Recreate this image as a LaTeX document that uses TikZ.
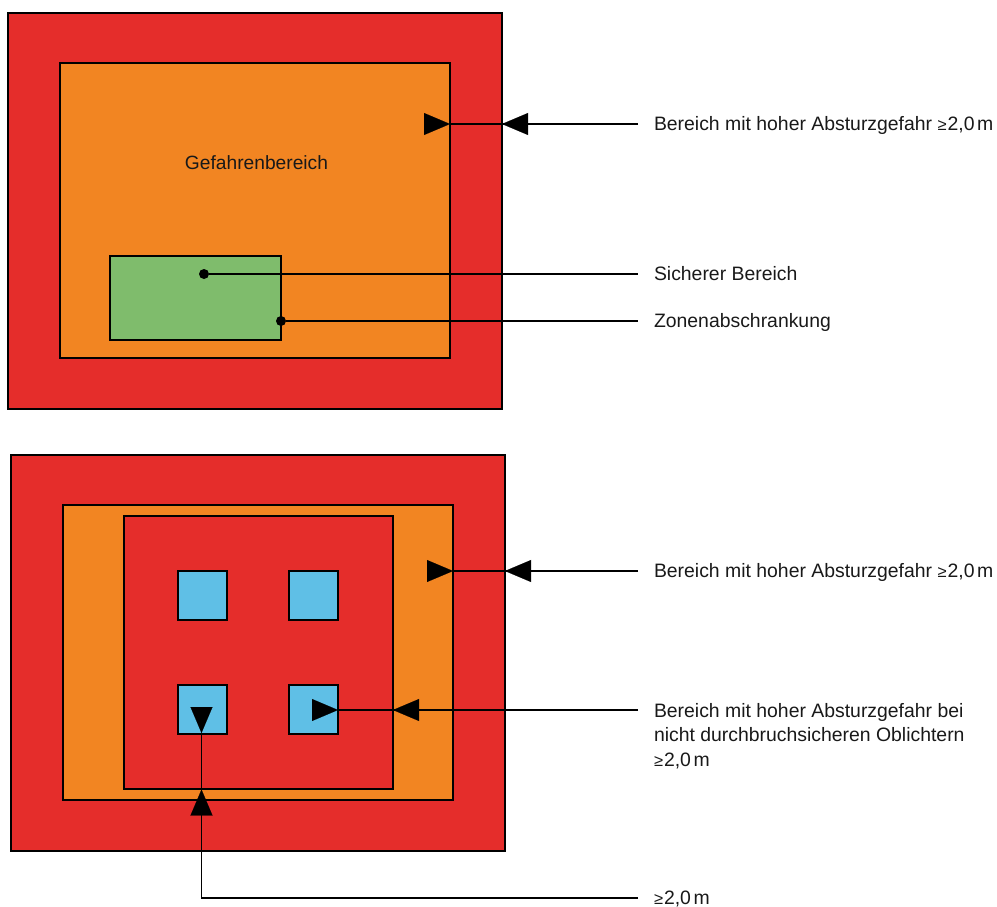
\documentclass[tikz,border=0pt]{standalone}
\usepackage{fontspec}
\setmainfont{Liberation Sans}
\usetikzlibrary{arrows.meta,calc}
\definecolor{cred}{HTML}{E52D2B}
\definecolor{corange}{HTML}{F28522}
\definecolor{cgreen}{HTML}{7FBC6C}
\definecolor{cblue}{HTML}{5FBFE6}
\newcommand{\gehalf}{{\fontsize{16.5}{16}\selectfont ≥}\kern1pt 2,0\kern2.5pt m}
\tikzset{
  x=1pt,y=-1pt,
  box/.style={draw=black,line width=1.7pt,rectangle,inner sep=0pt,outer sep=0pt,anchor=north west},
  conn/.style={draw=black,line width=1.2pt},
  tipend/.style={draw=black,-{Triangle[length=26pt,width=22pt,fill=black]},line width=0.1pt},
  dotmark/.style={circle,fill=black,inner sep=0pt,outer sep=0pt,minimum size=10pt},
  lab/.style={anchor=base west,inner sep=0pt,outer sep=0pt,font=\fontsize{19.4}{24.5}\selectfont,align=left,text=black!90}
}
\begin{document}
\begin{tikzpicture}
\useasboundingbox (0,0) rectangle (997,907);
% upper figure
\node[box,fill=cred,line width=2.5pt,minimum width=494pt,minimum height=396pt] (o1) at (8,13) {};
\node[box,fill=corange,minimum width=390pt,minimum height=295pt] (m1) at (60,63) {};
\node[box,fill=cgreen,minimum width=171pt,minimum height=84pt] (g1) at (110,256) {};
\node[anchor=base,inner sep=0pt,font=\fontsize{19.2}{20}\selectfont,text=black!90] (t0) at (256.5,169) {Gefahrenbereich};
\node[lab] (t1) at (654,131) {Bereich mit hoher Absturzgefahr \gehalf};
\node[lab] (t2) at (654,280) {Sicherer Bereich};
\node[lab] (t3) at (654,327) {Zonenabschrankung};
\coordinate (e1) at (638,124);
\coordinate (e2) at (638,274);
\coordinate (e3) at (638,321);
\node[dotmark] (d2) at (204,274) {};
\node[dotmark] (d3) at (g1.east |- e3) {};
\draw[conn] (e1) -- (m1.east |- e1);
\draw[tipend] ($(o1.east |- e1)+(26,0)$) -- (o1.east |- e1);
\draw[tipend] ($(m1.east |- e1)+(-26,0)$) -- (m1.east |- e1);
\draw[conn] (d2) -- (e2);
\draw[conn] (d3) -- (e3);
% lower figure
\node[box,fill=cred,minimum width=494pt,minimum height=396pt] (o2) at (11,455) {};
\node[box,fill=corange,minimum width=390pt,minimum height=295pt] (m2) at (63,505) {};
\node[box,fill=cred,minimum width=269pt,minimum height=273pt] (i2) at (124,516) {};
\node[box,fill=cblue,minimum width=49pt,minimum height=49pt] (b1) at (178,571) {};
\node[box,fill=cblue,minimum width=49pt,minimum height=49pt] (b2) at (289,571) {};
\node[box,fill=cblue,minimum width=49pt,minimum height=49pt] (b3) at (178,685) {};
\node[box,fill=cblue,minimum width=49pt,minimum height=49pt] (b4) at (289,685) {};
\node[lab] (t4) at (654,577) {Bereich mit hoher Absturzgefahr \gehalf};
\node[lab,anchor=north west] (t5) at (654,703) {Bereich mit hoher Absturzgefahr bei\\nicht durchbruchsicheren Oblichtern\\\gehalf};
\node[lab] (t6) at (654,904) {\gehalf};
\coordinate (e4) at (638,571);
\coordinate (e5) at (638,710);
\coordinate (e6) at (638,898);
\coordinate (v) at (201.5,898);
\draw[conn] (e4) -- (m2.east |- e4);
\draw[tipend] ($(o2.east |- e4)+(26,0)$) -- (o2.east |- e4);
\draw[tipend] ($(m2.east |- e4)+(-26,0)$) -- (m2.east |- e4);
\draw[conn] (e5) -- (b4.east |- e5);
\draw[tipend] ($(i2.east |- e5)+(26,0)$) -- (i2.east |- e5);
\draw[tipend] ($(b4.east |- e5)+(-26,0)$) -- (b4.east |- e5);
\draw[conn] (e6) -- (v) -- (v |- b3.south);
\draw[tipend] ($(v |- m2.south)+(0,14)$) -- ($(v |- m2.south)+(0,-10.5)$);
\draw[tipend] ($(v |- b3.south)+(0,-27)$) -- ($(v |- b3.south)+(0,-1)$);
\end{tikzpicture}
\end{document}
